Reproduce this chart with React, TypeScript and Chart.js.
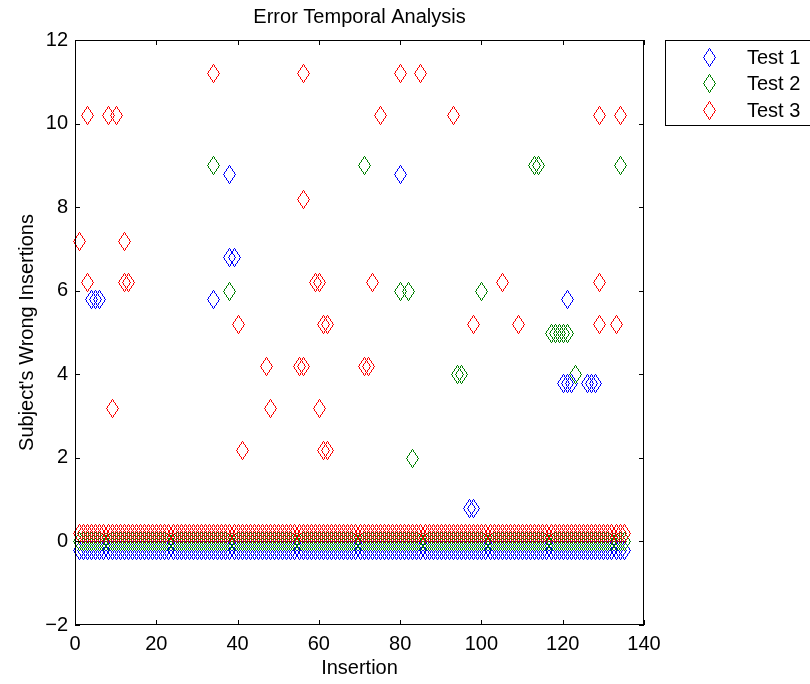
import React, { useEffect, useRef } from "react";
import { Chart, registerables } from "chart.js";

Chart.register(...registerables);

const chartTitle = "Error Temporal Analysis";
const xAxisLabel = "Insertion";
const yAxisLabel = "Subject's Wrong Insertions";
const seriesNames = ["Test 1", "Test 2", "Test 3"];
const seriesColors = ["#0000ff", "#008000", "#ff0000"];
const seriesOffsets = [-0.2, 0, 0.2];
const insertionFirst = 1;
const insertionLast = 135;
const xTickValues = [0, 20, 40, 60, 80, 100, 120, 140];
const yTickValues = [-2, 0, 2, 4, 6, 8, 10, 12];

// Insertions where a test had wrong insertions (every insertion also has a 0-error entry)
const test1Insertions = [4, 5, 6, 34, 38, 38, 39, 80, 97, 98, 120, 121, 121, 122, 126, 127, 128];
const test1Errors = [6, 6, 6, 6, 9, 7, 7, 9, 1, 1, 4, 4, 6, 4, 4, 4, 4];

const test2Insertions = [34, 38, 71, 80, 82, 83, 94, 95, 100, 113, 114, 117, 118, 119, 120, 121, 123, 134];
const test2Errors = [9, 6, 9, 6, 6, 2, 4, 4, 6, 9, 9, 5, 5, 5, 5, 5, 4, 9];

const test3Insertions = [1, 3, 3, 8, 9, 10, 12, 12, 13, 34, 40, 41, 47, 48, 55, 56, 56, 56, 59, 60, 60, 61, 61, 62, 62, 71, 72, 73, 75, 80, 85, 93, 98, 105, 109, 129, 129, 129, 133, 134];
const test3Errors = [7, 10, 6, 10, 3, 10, 7, 6, 6, 11, 5, 2, 4, 3, 4, 4, 11, 8, 6, 6, 3, 5, 2, 5, 2, 4, 4, 6, 10, 11, 11, 10, 5, 6, 5, 10, 6, 5, 5, 10];

const FONT_FAMILY = "'Liberation Sans', Arial, Helvetica, sans-serif";

function buildPoints(xs: number[], errs: number[], offset: number) {
  const pts: { x: number; y: number }[] = [];
  for (let x = insertionFirst; x <= insertionLast; x++) {
    pts.push({ x, y: 0 + offset });
  }
  xs.forEach((x, i) => pts.push({ x, y: errs[i] + offset }));
  return pts;
}

function plotLine(g: CanvasRenderingContext2D, x0: number, y0: number, x1: number, y1: number) {
  const dx = Math.abs(x1 - x0);
  const dy = -Math.abs(y1 - y0);
  const sx = x0 < x1 ? 1 : -1;
  const sy = y0 < y1 ? 1 : -1;
  let err = dx + dy;
  let x = x0;
  let y = y0;
  for (;;) {
    g.fillRect(x, y, 1, 1);
    if (x === x1 && y === y1) break;
    const e2 = 2 * err;
    if (e2 >= dy) {
      err += dy;
      x += sx;
    }
    if (e2 <= dx) {
      err += dx;
      y += sy;
    }
  }
}

function makeDiamond(color: string) {
  const c = document.createElement("canvas");
  c.width = 16;
  c.height = 20;
  const g = c.getContext("2d")!;
  g.fillStyle = color;
  plotLine(g, 8, 1, 14, 10);
  plotLine(g, 14, 10, 8, 19);
  plotLine(g, 8, 19, 2, 10);
  plotLine(g, 2, 10, 8, 1);
  return c;
}

export default function App() {
  const ref = useRef<HTMLCanvasElement | null>(null);

  useEffect(() => {
    const canvas = ref.current;
    if (!canvas) return;
    const markers = seriesColors.map((c) => makeDiamond(c));
    const allX = [test1Insertions, test2Insertions, test3Insertions];
    const allE = [test1Errors, test2Errors, test3Errors];

    const datasets = seriesNames.map((name, i) => ({
      label: name,
      data: buildPoints(allX[i], allE[i], seriesOffsets[i]),
      pointStyle: markers[i] as any,
      borderColor: seriesColors[i],
      backgroundColor: "rgba(0,0,0,0)",
      showLine: false,
      clip: false as any,
      order: 2 - i,
    }));

    const snap = {
      id: "snapPoints",
      afterDatasetsUpdate(chart: any) {
        chart.data.datasets.forEach((_d: any, i: number) => {
          const meta = chart.getDatasetMeta(i);
          meta.data.forEach((el: any) => {
            el.x = Math.round(el.x);
            el.y = Math.round(el.y);
          });
        });
      },
    };

    const frame = {
      id: "matlabFrame",
      afterDraw(chart: any) {
        const { ctx, chartArea } = chart;
        const { left, right, top, bottom } = chartArea;
        const xs = chart.scales.x;
        const ys = chart.scales.y;
        ctx.save();
        ctx.strokeStyle = "#000";
        ctx.lineWidth = 1;
        ctx.strokeRect(left + 0.5, top + 0.5, right - left - 1, bottom - top - 1);
        const tl = 5;
        ctx.beginPath();
        xTickValues.forEach((v) => {
          const px = Math.round(xs.getPixelForValue(v)) + 0.5;
          ctx.moveTo(px, bottom);
          ctx.lineTo(px, bottom - tl);
          ctx.moveTo(px, top);
          ctx.lineTo(px, top + tl);
        });
        yTickValues.forEach((v) => {
          const py = Math.round(ys.getPixelForValue(v)) + 0.5;
          ctx.moveTo(left, py);
          ctx.lineTo(left + tl, py);
          ctx.moveTo(right, py);
          ctx.lineTo(right - tl, py);
        });
        ctx.stroke();

        // legend
        const lx = 665;
        const ly = 40;
        ctx.fillStyle = "#fff";
        ctx.fillRect(lx, ly, 160, 86);
        ctx.strokeRect(lx + 0.5, ly + 0.5, 160, 85);
        ctx.font = `20px ${FONT_FAMILY}`;
        ctx.fillStyle = "#000";
        ctx.textAlign = "left";
        ctx.textBaseline = "middle";
        seriesNames.forEach((name, i) => {
          const cy = Math.round(57 + i * 26.3);
          ctx.drawImage(markers[i], 709 - 8, cy - 10);
          ctx.fillText(name, 747, cy + 1);
        });
        ctx.restore();
      },
    };

    const chart = new Chart(canvas, {
      type: "scatter",
      data: { datasets: datasets as any },
      options: {
        animation: false,
        responsive: false,
        devicePixelRatio: 1,
        layout: { padding: { top: 0, right: 166, bottom: 0, left: 0 } },
        plugins: {
          legend: { display: false },
          tooltip: { enabled: false },
          title: {
            display: true,
            text: chartTitle,
            color: "#000",
            fullSize: false,
            font: { family: FONT_FAMILY, size: 20, weight: "normal" as any },
            padding: { top: 5, bottom: 11 },
          },
        },
        scales: {
          x: {
            type: "linear",
            position: "bottom",
            min: 0,
            max: 140,
            grid: { display: false, drawTicks: false },
            border: { display: false },
            ticks: {
              stepSize: 20,
              color: "#000",
              padding: 7,
              maxRotation: 0,
              autoSkip: false,
              font: { family: FONT_FAMILY, size: 20 },
            },
            title: {
              display: true,
              text: xAxisLabel,
              color: "#000",
              font: { family: FONT_FAMILY, size: 20 },
              padding: { top: 0, bottom: 4 },
            },
            afterFit: (s: any) => {
              s.height = 59;
            },
          },
          y: {
            type: "linear",
            min: -2,
            max: 12,
            grid: { display: false, drawTicks: false },
            border: { display: false },
            ticks: {
              stepSize: 2,
              color: "#000",
              padding: 7,
              autoSkip: false,
              font: { family: FONT_FAMILY, size: 20 },
              callback: (v: any) => (Number(v) < 0 ? "\u2212" + Math.abs(Number(v)) : String(v)),
            },
            title: {
              display: true,
              text: yAxisLabel,
              color: "#000",
              font: { family: FONT_FAMILY, size: 20 },
              padding: { top: 15, bottom: 0 },
            },
            afterFit: (s: any) => {
              s.width = 75;
            },
          },
        },
      },
      plugins: [snap, frame],
    });

    return () => chart.destroy();
  }, []);

  return (
    <canvas
      ref={ref}
      width={810}
      height={684}
      style={{ position: "absolute", left: 0, top: 0, width: 810, height: 684, display: "block", background: "#fff" }}
    />
  );
}
